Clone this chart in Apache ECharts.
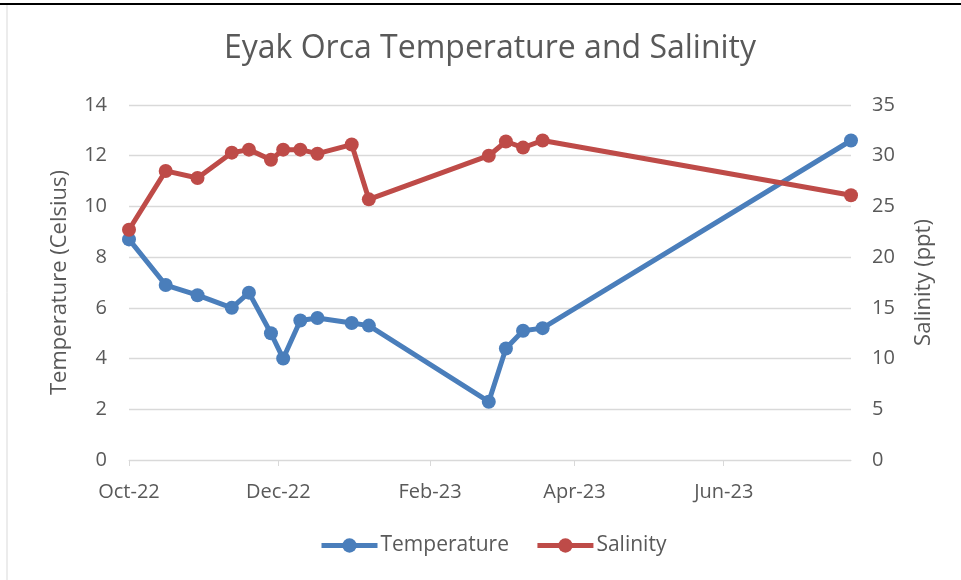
<!DOCTYPE html>
<html>
<head>
<meta charset="utf-8">
<script src="https://cdn.jsdelivr.net/npm/echarts@6/dist/echarts.min.js"></script>
<style>
  html, body { margin: 0; padding: 0; background: #fff; }
  #chart { width: 961px; height: 580px; }
</style>
</head>
<body>
<div id="chart"></div>
<script>
// sampling dates
const sampleDates = ['2022-10-01', '2022-10-16', '2022-10-29', '2022-11-12', '2022-11-19', '2022-11-28',
  '2022-12-03', '2022-12-10', '2022-12-17', '2022-12-31', '2023-01-07', '2023-02-25',
  '2023-03-04', '2023-03-11', '2023-03-19', '2023-07-23'];
const temperature = [8.7, 6.9, 6.5, 6.0, 6.6, 5.0, 4.0, 5.5, 5.6, 5.4, 5.3, 2.3, 4.4, 5.1, 5.2, 12.6];
const salinity = [22.7, 28.5, 27.8, 30.3, 30.6, 29.6, 30.6, 30.6, 30.2, 31.1, 25.7, 30.0, 31.4, 30.8, 31.5, 26.1];
// x axis ticks
const tickDates = ['2022-10-01', '2022-12-01', '2023-02-01', '2023-04-01', '2023-06-01'];
const tickLabels = ['Oct-22', 'Dec-22', 'Feb-23', 'Apr-23', 'Jun-23'];

const ts = s => new Date(s + 'T00:00:00').getTime();
const tickTs = tickDates.map(ts);

const chart = echarts.init(document.getElementById('chart'));
const font = '"Open Sans", sans-serif';
const grey = '#595959';

let option = {
  backgroundColor: '#fff',
  animation: false,
  textStyle: { fontFamily: font, color: grey },
  title: {
    text: 'Eyak Orca Temperature and Salinity',
    left: 485, top: 28, textAlign: 'center',
    textStyle: { fontFamily: font, fontSize: 32, fontWeight: 'normal', color: grey }
  },
  legend: {
    bottom: 19, left: 314,
    itemWidth: 56, itemHeight: 18, itemGap: 26,
    lineStyle: { width: 5 },
    textStyle: { fontFamily: font, fontSize: 21, color: grey, padding: [0, 0, 0, -2] },
    data: ['Temperature', 'Salinity']
  },
  grid: { left: 129, right: 110, top: 105, bottom: 120 },
  xAxis: {
    type: 'value',
    min: ts(sampleDates[0]),
    max: ts(sampleDates[sampleDates.length - 1]),
    axisLine: { lineStyle: { color: '#d9d9d9', width: 1 } },
    axisTick: { show: true, customValues: tickTs, length: 6, lineStyle: { color: '#d9d9d9' } },
    axisLabel: {
      customValues: tickTs,
      margin: 22,
      fontSize: 20, color: grey, fontFamily: font,
      formatter: function (v) {
        const i = tickTs.indexOf(v);
        return i >= 0 ? tickLabels[i] : '';
      }
    },
    splitLine: { show: false }
  },
  yAxis: [
    {
      type: 'value', min: 0, max: 14, interval: 2,
      name: 'Temperature (Celsius)', nameLocation: 'middle', nameGap: 58,
      nameTextStyle: { fontSize: 22, color: grey, fontFamily: font },
      axisLine: { show: false }, axisTick: { show: false },
      axisLabel: { fontSize: 20, color: grey, margin: 22 },
      splitLine: { lineStyle: { color: '#d9d9d9', width: 1.3 } }
    },
    {
      type: 'value', min: 0, max: 35, interval: 5,
      name: 'Salinity (ppt)', nameLocation: 'middle', nameGap: 62,
      nameTextStyle: { fontSize: 22, color: grey, fontFamily: font },
      axisLine: { show: false }, axisTick: { show: false },
      axisLabel: { fontSize: 20, color: grey, margin: 21 },
      splitLine: { show: false }
    }
  ],
  series: [
    {
      name: 'Temperature', type: 'line', yAxisIndex: 0,
      data: sampleDates.map((d, i) => [ts(d), temperature[i]]),
      symbol: 'circle', symbolSize: 14,
      lineStyle: { color: '#4a7ebb', width: 5 },
      itemStyle: { color: '#4a7ebb' }
    },
    {
      name: 'Salinity', type: 'line', yAxisIndex: 1,
      data: sampleDates.map((d, i) => [ts(d), salinity[i]]),
      symbol: 'circle', symbolSize: 14,
      lineStyle: { color: '#be4b48', width: 5 },
      itemStyle: { color: '#be4b48' }
    }
  ],
  graphic: [
    { type: 'line', shape: { x1: 0, y1: 4, x2: 961, y2: 4 }, style: { stroke: '#000', lineWidth: 2 } },
    { type: 'line', shape: { x1: 7, y1: 5, x2: 7, y2: 580 }, style: { stroke: '#d9d9d9', lineWidth: 1 } }
  ]
};

chart.setOption(option);
</script>
</body>
</html>
